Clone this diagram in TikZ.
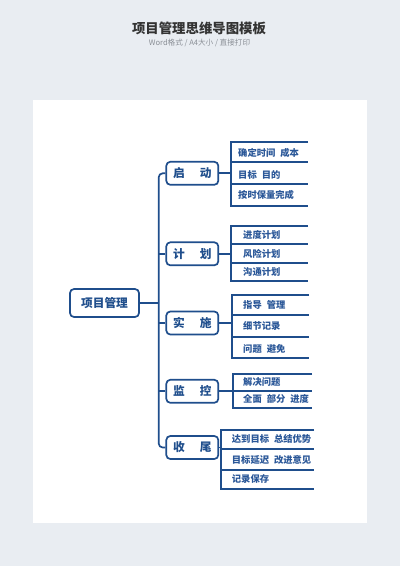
\documentclass[tikz,border=0pt]{standalone}
\usepackage{fontspec}
\setmainfont{Noto Sans CJK SC}
\definecolor{mapblue}{HTML}{1F4E8C}
\definecolor{leafblue}{HTML}{2A5798}
\definecolor{pagegray}{HTML}{E9EDF2}
\definecolor{titlegray}{HTML}{333333}
\definecolor{subgray}{HTML}{8A8F96}
\tikzset{
  line/.style={mapblue, line width=1.7pt},
  rootbox/.style={draw=mapblue, line width=1.7pt, rounded corners=4pt, minimum width=69pt, minimum height=28pt, inner sep=0pt, text=mapblue, font=\bfseries\fontsize{11.7}{12}\selectfont},
  branchbox/.style={draw=mapblue, line width=1.7pt, rounded corners=4pt, minimum width=52pt, minimum height=23pt, inner sep=0pt, text=mapblue, font=\bfseries\fontsize{11.7}{12}\selectfont},
  leaf/.style={anchor=west, inner sep=0pt, text=leafblue, font=\bfseries\fontsize{9.3}{10}\selectfont}
}
\begin{document}
\begin{tikzpicture}[x=1pt, y=-1pt]
\fill[pagegray] (0,0) rectangle (400,566);
\useasboundingbox (0,0) rectangle (400,566);
\fill[white] (33,100) rectangle (367,523);

\node[text=titlegray, font=\bfseries\fontsize{13.4}{14}\selectfont] (title) at (199,28.5) {项目管理思维导图模板};
\node[text=subgray, font=\fontsize{7.6}{8}\selectfont] (subtitle) at (199.5,43) {Word格式 / A4大小 / 直接打印};

\node[rootbox] (root) at (104.5,303) {项目管理};

\node[branchbox] (qidong) at (192.3,173.3) {启\hspace{15pt}动};
\node[branchbox] (jihua) at (192.3,253.8) {计\hspace{15pt}划};
\node[branchbox] (shishi) at (192.3,323) {实\hspace{15pt}施};
\node[branchbox] (jiankong) at (192.3,391.3) {监\hspace{15pt}控};
\node[branchbox] (shouwei) at (192.3,447.5) {收\hspace{15pt}尾};

\coordinate (trunk) at (158.7,303);
\draw[line, rounded corners=4pt] (qidong.west) -| (trunk) |- (shouwei.west);
\draw[line] (jihua.west) -- (jihua.west -| trunk);
\draw[line] (shishi.west) -- (shishi.west -| trunk);
\draw[line] (jiankong.west) -- (jiankong.west -| trunk);
\draw[line] (root.east) -- (root.east -| trunk);

\coordinate (qd) at (230.7,173.3);
\draw[line] (308,142) -- (230.7,142) -- (230.7,205.7) -- (308,205.7);
\draw[line] (230.7,162.3) -- (308,162.3);
\draw[line] (230.7,184.3) -- (308,184.3);
\draw[line] (qidong.east) -- (qidong.east -| qd);
\node[leaf] (qd1) at (238,152.7) {确定时间\hspace{5pt}成本};
\node[leaf] (qd2) at (238,174.8) {目标\hspace{5pt}目的};
\node[leaf] (qd3) at (238,195) {按时保量完成};

\coordinate (jh) at (231.3,253.8);
\draw[line] (308,226) -- (231.3,226) -- (231.3,281) -- (308,281);
\draw[line] (231.3,244.3) -- (308,244.3);
\draw[line] (231.3,262.7) -- (308,262.7);
\draw[line] (jihua.east) -- (jihua.east -| jh);
\node[leaf] (jh1) at (243,235.3) {进度计划};
\node[leaf] (jh2) at (243,253.7) {风险计划};
\node[leaf] (jh3) at (243,272) {沟通计划};

\coordinate (ss) at (232.3,323);
\draw[line] (309,295) -- (232.3,295) -- (232.3,358) -- (309,358);
\draw[line] (232.3,315.3) -- (309,315.3);
\draw[line] (232.3,337.3) -- (309,337.3);
\draw[line] (shishi.east) -- (shishi.east -| ss);
\node[leaf] (ss1) at (243,305) {指导\hspace{5pt}管理};
\node[leaf] (ss2) at (243,325.7) {细节记录};
\node[leaf] (ss3) at (243,348.5) {问题\hspace{5pt}避免};

\coordinate (jk) at (233.3,391.3);
\draw[line] (312,374.3) -- (233.3,374.3) -- (233.3,408.3) -- (312,408.3);
\draw[line] (233.3,390.7) -- (312,390.7);
\draw[line] (jiankong.east) -- (jiankong.east -| jk);
\node[leaf] (jk1) at (243,382.3) {解决问题};
\node[leaf] (jk2) at (243,399) {全面\hspace{5pt}部分\hspace{5pt}进度};

\coordinate (sw) at (221,447.5);
\draw[line] (314,430) -- (221,430) -- (221,489) -- (314,489);
\draw[line] (221,449.3) -- (314,449.3);
\draw[line] (221,470) -- (314,470);
\draw[line] (shouwei.east) -- (shouwei.east -| sw);
\node[leaf] (sw1) at (231.7,439) {达到目标\hspace{5pt}总结优势};
\node[leaf] (sw2) at (231.7,460) {目标延迟\hspace{5pt}改进意见};
\node[leaf] (sw3) at (231.7,479.3) {记录保存};
\end{tikzpicture}
\end{document}
